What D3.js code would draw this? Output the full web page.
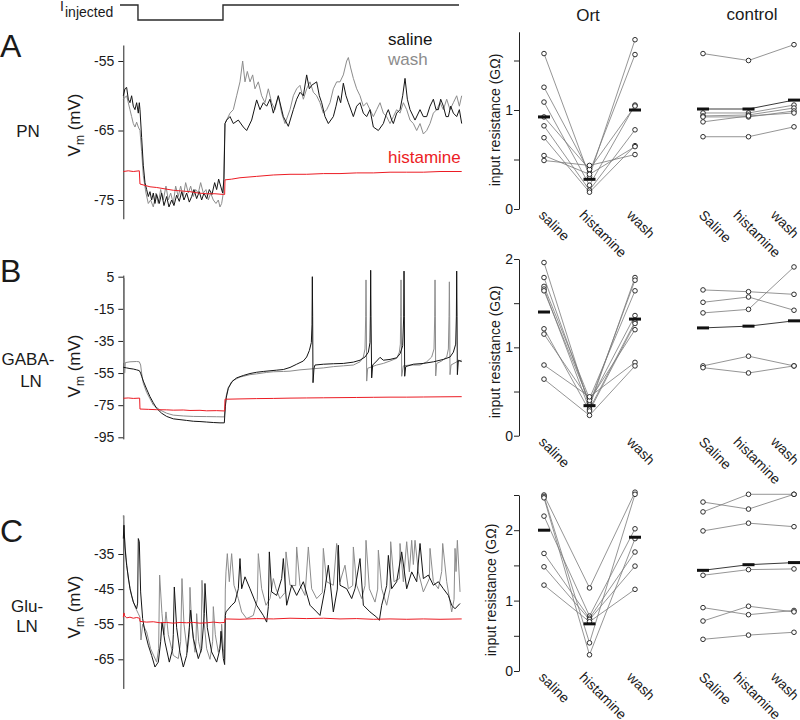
<!DOCTYPE html>
<html><head><meta charset="utf-8">
<script src="https://cdn.jsdelivr.net/npm/d3@7"></script>
<style>
body{margin:0;background:#fff}
svg{display:block}
text{font-family:"Liberation Sans",Arial,Helvetica,sans-serif;fill:#1a1a1a}
</style>
</head><body>
<svg id="fig" width="800" height="720"></svg>
<script>
// ---------------- DATA ----------------
// time in ms, membrane potential in mV
const iInjected = [[-20,0],[88,0],[88,-1],[598,-1],[598,0],[2014,0]];

const aSaline = [[0,-60],[10,-59],[20,-58.8],[30,-60.5],[40,-61],[50,-60],[60,-61.5],[70,-62],[80,-61],[90,-62.5],[96,-61],[100,-62],[110,-66],[120,-70],[130,-72.5],[140,-73.5],[150,-74.5],[160,-73.8],[170,-75],[180,-74],[190,-75.5],[200,-74.2],[216,-75.5],[230,-74],[244,-75.8],[260,-74.5],[274,-76],[290,-75],[304,-75.8],[320,-74.3],[336,-75.2],[350,-73.8],[364,-75],[380,-74],[396,-75.3],[410,-74.5],[424,-73.5],[440,-74.8],[456,-73.8],[470,-75],[484,-74],[500,-74.8],[516,-73.5],[532,-74.2],[548,-72.5],[560,-73.5],[572,-72],[584,-73],[596,-74],[604,-72],[610,-64],[620,-63.5],[640,-63],[660,-64],[690,-63.5],[720,-64.5],[740,-65],[770,-63.5],[800,-60.6],[820,-62],[840,-61],[860,-61.5],[880,-60.5],[900,-62.5],[930,-60],[960,-63],[990,-64.4],[1020,-62],[1040,-60.5],[1060,-59.5],[1080,-60],[1100,-57],[1116,-59],[1130,-58.5],[1160,-58],[1176,-60],[1190,-61],[1210,-63],[1230,-64],[1260,-63],[1276,-61.5],[1290,-60],[1304,-61],[1320,-58.2],[1336,-60],[1350,-61],[1380,-63],[1400,-61.5],[1420,-61],[1440,-62.5],[1460,-63],[1480,-62],[1500,-64.5],[1530,-65],[1560,-64],[1580,-62.5],[1590,-62],[1610,-63.5],[1620,-64],[1640,-62.5],[1660,-62],[1676,-60],[1690,-57.5],[1704,-60.5],[1720,-62],[1750,-63.5],[1780,-62],[1800,-63],[1820,-63],[1840,-61.5],[1860,-60.5],[1876,-62],[1890,-62],[1904,-60.5],[1920,-61.5],[1936,-63],[1950,-63],[1964,-61.5],[1980,-62.5],[2000,-63],[2016,-62],[2030,-64]];
const aWash = [[0,-60.5],[20,-60],[40,-62],[50,-63],[60,-64],[70,-64.5],[80,-63.8],[90,-64.5],[100,-65],[110,-68],[120,-71.5],[136,-74],[150,-75.5],[164,-75],[180,-76],[196,-74],[210,-75.5],[224,-73.5],[240,-75],[256,-73],[270,-75],[284,-74],[300,-75.5],[314,-73],[330,-74.5],[344,-73],[360,-74.5],[374,-72.5],[390,-74],[404,-73],[420,-74.5],[434,-73.5],[450,-74],[464,-72.5],[480,-74],[496,-73.5],[510,-75],[524,-74],[540,-75],[556,-75.5],[570,-75],[580,-76],[590,-75.5],[600,-74],[610,-64],[620,-63.5],[640,-62.5],[660,-62],[680,-60],[700,-58],[716,-55],[730,-58],[744,-56.5],[760,-58],[776,-57],[790,-59],[810,-58],[830,-60],[850,-61],[870,-59],[890,-61],[910,-62],[930,-60],[950,-62.5],[970,-64],[1000,-62],[1020,-60],[1040,-59],[1060,-58.5],[1080,-60.5],[1100,-59],[1120,-58],[1140,-59.5],[1160,-60],[1180,-61],[1200,-62.5],[1220,-62],[1240,-61],[1260,-59],[1280,-58],[1300,-58],[1320,-57],[1340,-55],[1350,-54.5],[1364,-56],[1380,-57.5],[1400,-59],[1420,-60],[1440,-61.5],[1460,-61],[1480,-62],[1500,-63],[1520,-62],[1540,-61],[1560,-62.5],[1580,-63],[1600,-64],[1620,-63],[1640,-62],[1660,-62.5],[1680,-61],[1700,-62],[1720,-63.5],[1740,-64],[1760,-65],[1780,-64],[1800,-65.5],[1820,-65],[1840,-64],[1860,-62.5],[1880,-62],[1900,-61],[1920,-62],[1940,-60.5],[1960,-62],[1980,-61],[2000,-60],[2016,-61.5],[2030,-60]];
const aHist = [[0,-70.9],[30,-70.8],[60,-70.9],[96,-70.8],[100,-72.7],[130,-72.9],[160,-73.1],[200,-73.2],[250,-73.4],[300,-73.6],[350,-73.7],[400,-73.8],[450,-74],[500,-74.1],[550,-74.1],[600,-74.2],[608,-74.2],[610,-72.1],[650,-72],[700,-71.8],[800,-71.6],[900,-71.4],[1000,-71.3],[1100,-71.3],[1200,-71.2],[1300,-71.2],[1400,-71.1],[1500,-71.1],[1600,-71],[1700,-71],[1800,-71],[1900,-70.9],[2030,-70.9]];

const bSaline = [[0,-51.4],[20,-51.8],[40,-52.2],[60,-52.5],[80,-53],[96,-53.5],[104,-55],[110,-57],[120,-60],[140,-65],[160,-69.7],[180,-73.5],[200,-77],[230,-80],[260,-82],[300,-83.5],[340,-84],[380,-84.5],[420,-85],[460,-85.2],[500,-85.5],[540,-85.8],[580,-86],[606,-86],[612,-76],[618,-70],[630,-64.5],[650,-60.5],[680,-58],[720,-56.5],[760,-55.3],[800,-54.5],[840,-54],[880,-53.6],[920,-53.2],[960,-52.8],[1000,-51.5],[1040,-49.5],[1080,-47.5],[1100,-45],[1116,-41],[1128,-36],[1132,-25],[1134,5],[1136,-20],[1138,-61],[1144,-52],[1150,-50],[1200,-49.5],[1260,-49.2],[1320,-49],[1380,-48.2],[1420,-47],[1450,-45],[1470,-42],[1480,-36],[1482,-20],[1484,9],[1486,-20],[1490,-58],[1496,-50],[1520,-47.5],[1540,-45.2],[1560,-47],[1600,-46.5],[1640,-45.5],[1660,-43],[1676,-38],[1682,-20],[1684,8.5],[1686,-20],[1688,-57],[1694,-51],[1740,-49.5],[1800,-49],[1860,-48],[1920,-46.5],[1960,-45],[1980,-42],[1994,-37],[1998,-20],[2000,8.5],[2002,-20],[2004,-56],[2010,-47],[2030,-47.9]];
const bWash = [[0,-48.3],[3,-48.5],[6,4],[8,-55],[12,-48.5],[40,-48],[80,-47.8],[96,-48],[104,-50],[110,-55],[120,-61.4],[140,-67],[160,-71],[180,-74.9],[220,-78],[260,-80],[300,-81.2],[360,-81.7],[420,-82],[500,-82.1],[560,-82.2],[606,-82.3],[612,-75],[618,-69],[630,-64],[660,-59.5],[700,-57.5],[760,-56],[800,-55.5],[860,-54.6],[900,-54.2],[960,-54],[1000,-53.8],[1060,-53],[1140,-52.3],[1200,-51.8],[1260,-51],[1320,-50.5],[1380,-50],[1420,-48],[1440,-45],[1450,-40],[1454,-20],[1456,3],[1458,-20],[1460,-60],[1466,-52],[1480,-51.5],[1520,-50],[1560,-49],[1600,-47.5],[1640,-45.8],[1656,-42],[1662,-37],[1664,-20],[1666,3],[1668,-20],[1670,-57],[1680,-50.5],[1720,-50],[1780,-50],[1820,-48],[1850,-45],[1864,-40],[1868,-20],[1870,3],[1872,-20],[1874,-56.8],[1880,-49],[1910,-47.5],[1940,-45],[1950,-40],[1954,-20],[1956,1.8],[1958,-20],[1960,-56],[1966,-50],[2000,-48],[2030,-47]];
const bHist = [[0,-70.7],[30,-70.5],[60,-70.8],[98,-70.6],[100,-77.4],[150,-77.6],[200,-77.8],[260,-77.9],[300,-78.1],[360,-78],[400,-78.3],[460,-78.2],[500,-78.5],[560,-78.4],[608,-78.6],[610,-71.3],[700,-71.1],[800,-70.9],[900,-70.8],[1000,-70.6],[1100,-70.5],[1200,-70.4],[1300,-70.3],[1400,-70.2],[1500,-70.1],[1600,-70],[1700,-70],[1800,-69.9],[1900,-69.8],[2030,-69.7]];

const cSaline = [[0,-30.6],[4,-26.8],[10,-33],[20,-38.2],[40,-44.9],[60,-48.7],[80,-50.6],[86,-49],[90,-30.6],[96,-31.5],[104,-45.8],[116,-53.4],[130,-57.2],[150,-61],[170,-63.9],[190,-67.2],[210,-65.8],[224,-60],[232,-54.4],[250,-60.1],[276,-65.8],[296,-62],[300,-58],[306,-44.4],[320,-56],[340,-63],[360,-67.2],[380,-63.9],[396,-56],[404,-51],[420,-59],[450,-64.8],[470,-62],[486,-52],[490,-43.4],[504,-56],[530,-62.9],[560,-65.8],[580,-62],[586,-57],[600,-64.8],[608,-66.5],[612,-52.5],[616,-51.5],[650,-49.6],[670,-48.7],[690,-44.9],[700,-36.3],[710,-44.9],[730,-41.5],[760,-44.9],[800,-49.6],[840,-52.5],[860,-54.4],[870,-50],[876,-34.4],[890,-45.8],[920,-46.8],[950,-42],[960,-36.3],[980,-49.6],[1010,-43.9],[1040,-46.8],[1080,-42.9],[1120,-49.6],[1160,-51.5],[1180,-52.5],[1210,-44.9],[1230,-38.2],[1260,-51.5],[1284,-45],[1290,-32.5],[1300,-43.9],[1340,-44.9],[1370,-47.7],[1390,-44.9],[1420,-36.3],[1440,-49.6],[1480,-51.5],[1520,-53],[1536,-53.9],[1550,-49.6],[1580,-44],[1590,-35.4],[1610,-44.9],[1640,-42.9],[1670,-34.4],[1700,-44.9],[1730,-40.1],[1760,-42.9],[1780,-32],[1800,-42],[1830,-41],[1860,-43.9],[1890,-42.9],[1920,-44.9],[1950,-46.8],[1970,-49.6],[1990,-50.6],[2020,-49.1]];
const cWash = [[0,-24],[4,-28],[16,-36],[30,-42],[50,-47],[70,-50],[90,-52],[100,-53],[106,-59.5],[116,-55],[140,-57.2],[164,-62],[200,-65.8],[212,-62],[218,-41],[232,-52],[244,-58],[256,-51.5],[270,-58],[300,-63.9],[330,-64.8],[344,-60],[352,-42],[364,-55],[384,-63],[396,-58],[400,-44.5],[410,-55],[430,-63],[436,-60],[440,-52],[452,-60],[466,-63],[472,-42.5],[484,-54],[500,-62],[520,-65],[536,-60],[540,-50],[552,-58],[570,-63],[586,-60],[590,-55],[600,-62],[608,-65],[612,-45],[616,-40.1],[624,-34.9],[636,-42.9],[650,-34.9],[664,-43.9],[690,-47.7],[710,-51.5],[740,-53.4],[780,-52.5],[804,-48],[810,-34.9],[830,-44.9],[856,-49.6],[880,-47.7],[900,-42],[916,-44.9],[940,-47.7],[970,-46],[976,-34.4],[1000,-43.9],[1034,-44],[1040,-33],[1060,-43.9],[1090,-46.8],[1110,-33],[1130,-44.9],[1160,-47.7],[1194,-46],[1200,-33.4],[1220,-42.9],[1260,-43.9],[1280,-32],[1300,-42.9],[1330,-38.2],[1350,-44.9],[1376,-44],[1380,-33],[1400,-43.9],[1430,-47.7],[1450,-44],[1456,-31.1],[1476,-44.9],[1510,-48.7],[1526,-45],[1530,-33.9],[1550,-44.9],[1580,-49.6],[1600,-45],[1604,-31.5],[1624,-42.9],[1656,-42],[1660,-32],[1680,-42.9],[1700,-31.5],[1716,-40.1],[1730,-31.1],[1740,-38],[1750,-31.1],[1770,-40.1],[1800,-45.8],[1836,-42],[1840,-33.4],[1860,-42.9],[1890,-44.9],[1910,-40],[1916,-32],[1940,-42.9],[1970,-51.5],[1984,-48],[1990,-33.4],[1996,-40],[2004,-31.1],[2020,-45.8]];
const cHist = [[0,-53],[4,-51.8],[8,-52.6],[20,-53.2],[40,-53],[60,-53.3],[80,-53.1],[98,-53.3],[100,-54.2],[140,-54.4],[180,-54.3],[220,-54.6],[260,-54.5],[300,-54.7],[340,-54.5],[380,-54.6],[420,-54.5],[460,-54.7],[500,-54.6],[540,-54.4],[580,-54.6],[608,-54.5],[610,-53.5],[700,-53.6],[800,-53.4],[900,-53.5],[1000,-53.3],[1100,-53.4],[1200,-53.3],[1300,-53.5],[1400,-53.4],[1500,-53.6],[1600,-53.5],[1700,-53.6],[1800,-53.5],[1900,-53.6],[2030,-53.5]];

const ticksA = [-55,-65,-75];
const ticksB = [5,-15,-35,-55,-75,-95];
const ticksC = [-35,-45,-55,-65];

// input resistance (GOhm): each row = one cell [saline, histamine, wash]
const conditions = ["saline","histamine","wash"];
const ctrlConditions = ["Saline","histamine","wash"];
const ortA = [[1.57,0.33,1.71],[1.23,0.37,1.56],[1.08,0.24,1.05],[0.93,0.40,1.04],[0.84,0.19,0.80],[0.72,0.17,0.64],[0.54,0.35,0.63],[0.49,0.44,0.55]];
const ortAMean = [0.93,0.30,1.00];
const ctrlA = [[1.57,1.50,1.66],[0.97,0.97,1.05],[0.94,0.95,1.02],[0.93,0.93,0.99],[0.88,0.94,0.97],[0.73,0.73,0.83]];
const ctrlAMean = [1.01,1.01,1.10];
const ortB = [[1.96,0.33,1.79],[1.79,0.36,1.76],[1.69,0.42,1.64],[1.66,0.30,1.29],[1.64,0.38,1.36],[1.21,0.28,1.27],[1.15,0.40,1.20],[0.80,0.44,0.83],[0.64,0.23,0.79]];
const ortBMean = [1.40,0.34,1.32];
const ctrlB = [[1.65,1.63,1.60],[1.51,1.57,1.42],[1.39,1.43,1.91],[0.79,0.90,0.79],[0.77,0.71,0.79]];
const ctrlBMean = [1.22,1.24,1.30];
const ortC = [[2.50,1.18,2.54],[2.48,0.40,2.51],[2.46,0.23,1.88],[2.20,0.78,2.02],[1.67,0.75,1.69],[1.48,0.73,1.49],[1.22,0.70,1.16]];
const ortCMean = [2.00,0.67,1.90];
const ctrlC = [[2.40,2.30,2.51],[2.26,2.51,2.51],[1.99,2.10,2.05],[1.36,1.44,1.45],[0.90,0.80,0.86],[0.71,0.92,0.84],[0.45,0.51,0.55]];
const ctrlCMean = [1.43,1.51,1.54];

const resTicksA = [0,0.5,1,1.5];
const resTicksB = [0,0.5,1,1.5,2];
const resTicksC = [0,0.5,1,1.5,2,2.5];

// ---------------- DRAWING ----------------
const svg = d3.select("#fig");
const BLACK = "#141414", GRAY = "#8c8c8c", RED = "#ec1c24";
const x = d3.scaleLinear().domain([0, 2030]).range([123.3, 461.7]);
const line = (ys) => d3.line().x(d => x(d[0])).y(d => ys(d[1]));

// stimulus
const yI = d3.scaleLinear().domain([-1, 0]).range([20, 5]);
svg.append("path").datum(iInjected)
  .attr("d", d3.line().x(d => x(d[0])).y(d => yI(d[1])))
  .attr("fill","none").attr("stroke","#2a2a2a").attr("stroke-width",1.4);
svg.append("text").attr("x",60).attr("y",11).attr("font-size",14).text("I");
svg.append("text").attr("x",65).attr("y",17).attr("font-size",14).text("injected");

function tracePanel(cfg) {
  const y0 = d3.scaleLinear().domain(cfg.refV).range(cfg.refY);
  const ys = d3.scaleLinear().domain(cfg.axisV).range(cfg.axisV.map(y0));
  const g = svg.append("g");
  const ax = d3.axisLeft(ys).tickValues(cfg.ticks).tickSize(5).tickSizeOuter(0).tickFormat(d => String(d));
  const axg = g.append("g").attr("transform", `translate(${x(0)},0)`).call(ax);
  axg.select(".domain").attr("stroke","#222").attr("stroke-width",1);
  axg.selectAll(".tick line").attr("stroke","#222");
  axg.selectAll(".tick text").attr("font-size",14).attr("fill","#1a1a1a")
     .attr("font-family","Liberation Sans, Arial, sans-serif").attr("x",-9);
  [[cfg.wash, GRAY],[cfg.saline, BLACK],[cfg.hist, RED]].forEach(([dat,col]) => {
    g.append("path").datum(dat).attr("d", line(ys)).attr("fill","none")
      .attr("stroke", col).attr("stroke-width", 1).attr("stroke-linejoin","round");
  });
  const t = g.append("text").attr("transform", `translate(${cfg.vmX},${cfg.vmY}) rotate(-90)`)
    .attr("text-anchor","middle").attr("font-size",17);
  t.append("tspan").text("V");
  t.append("tspan").attr("font-size",12).attr("dy",4).text("m");
  t.append("tspan").attr("dy",-4).text(" (mV)");
}

tracePanel({refV:[-75,-55], refY:[200,61], axisV:[-77.7,-52.7], ticks:ticksA,
  saline:aSaline, wash:aWash, hist:aHist, vmX:80, vmY:125});
tracePanel({refV:[-95,5], refY:[437.3,276.7], axisV:[-96,6], ticks:ticksB,
  saline:bSaline, wash:bWash, hist:bHist, vmX:80, vmY:366});
tracePanel({refV:[-65,-35], refY:[659.3,554], axisV:[-73.3,-23.9], ticks:ticksC,
  saline:cSaline, wash:cWash, hist:cHist, vmX:80, vmY:607});

// legend
svg.append("text").attr("x",388).attr("y",45).attr("font-size",17).style("fill",BLACK).text("saline");
svg.append("text").attr("x",388).attr("y",64.5).attr("font-size",17).style("fill",GRAY).text("wash");
svg.append("text").attr("x",388).attr("y",163).attr("font-size",17).style("fill",RED).text("histamine");

// panel letters and cell names
[["A",57],["B",282],["C",542]].forEach(([l,yy]) =>
  svg.append("text").attr("x",0).attr("y",yy).attr("font-size",32).text(l));
svg.append("text").attr("x",28).attr("y",137).attr("font-size",17).attr("text-anchor","middle").text("PN");
svg.append("text").attr("x",28).attr("y",365).attr("font-size",17).attr("text-anchor","middle").text("GABA-");
svg.append("text").attr("x",31).attr("y",387).attr("font-size",17).attr("text-anchor","middle").text("LN");
svg.append("text").attr("x",27).attr("y",612).attr("font-size",17).attr("text-anchor","middle").text("Glu-");
svg.append("text").attr("x",27).attr("y",632).attr("font-size",17).attr("text-anchor","middle").text("LN");

// titles
svg.append("text").attr("x",588).attr("y",21).attr("font-size",17).attr("text-anchor","middle").text("Ort");
svg.append("text").attr("x",752).attr("y",20).attr("font-size",17).attr("text-anchor","middle").text("control");

const xOrt = d3.scalePoint().domain(conditions).range([544, 635]);
const xCtrl = d3.scalePoint().domain(conditions).range([703, 794]);
const ortLabelDx = [-6,-11,-9];
const ctrlLabelDx = [-5,-16,-24];

function resPanel(rows, means, xs, ys, opts) {
  const g = svg.append("g");
  const px = (i) => xs(conditions[i]);
  rows.forEach(r => {
    g.append("path").datum(r)
      .attr("d", d3.line().x((d,i) => px(i)).y(d => ys(d)))
      .attr("fill","none").attr("stroke","#7a7a7a").attr("stroke-width",0.8);
  });
  if (opts.meanLine) {
    g.append("path").datum(means)
      .attr("d", d3.line().x((d,i) => px(i)).y(d => ys(d)))
      .attr("fill","none").attr("stroke","#3a3a3a").attr("stroke-width",1);
  }
  rows.forEach(r => r.forEach((v,i) => {
    g.append("circle").attr("cx", px(i)).attr("cy", ys(v)).attr("r",2.3)
      .attr("fill","#fff").attr("stroke","#1a1a1a").attr("stroke-width",0.9);
  }));
  means.forEach((m,i) => {
    g.append("rect").attr("x", px(i)-6).attr("y", ys(m)-1.5).attr("width",12).attr("height",3)
      .attr("fill","#111");
  });
  opts.labels.forEach((lab,i) => {
    if (!lab) return;
    const lx = px(i) + opts.labelDx[i], ly = ys(0) + 7;
    g.append("text").attr("transform",`translate(${lx},${ly}) rotate(45)`)
      .attr("font-size",14).text(lab);
  });
}

function resAxis(ys, ticks, labelY, labelX) {
  const g = svg.append("g").attr("transform","translate(519,0)");
  const ax = d3.axisLeft(ys).tickValues(ticks).tickSize(5).tickSizeOuter(0)
    .tickFormat(d => Number.isInteger(d) ? String(d) : "");
  g.call(ax);
  g.select(".domain").attr("stroke","#222");
  g.selectAll(".tick line").attr("stroke","#222");
  g.selectAll(".tick text").attr("font-size",14).attr("fill","#1a1a1a")
    .attr("font-family","Liberation Sans, Arial, sans-serif").attr("x",-6);
  svg.append("text").attr("transform",`translate(${labelX},${labelY}) rotate(-90)`)
    .attr("text-anchor","middle").attr("font-size",14).text("input resistance (GΩ)");
}

// A
const yRA = d3.scaleLinear().domain([0,1.79]).range([209, 209-1.79*99]);
resAxis(yRA, resTicksA, 120, 500);
resPanel(ortA, ortAMean, xOrt, yRA, {labels:conditions, labelDx:ortLabelDx});
resPanel(ctrlA, ctrlAMean, xCtrl, yRA, {labels:ctrlConditions, labelDx:ctrlLabelDx, meanLine:true});
// B
const yRB = d3.scaleLinear().domain([0,2]).range([435.7, 259]);
resAxis(yRB, resTicksB, 352, 500);
resPanel(ortB, ortBMean, xOrt, yRB, {labels:["saline","","wash"], labelDx:ortLabelDx});
resPanel(ctrlB, ctrlBMean, xCtrl, yRB, {labels:ctrlConditions, labelDx:ctrlLabelDx, meanLine:true});
// C
const yRC = d3.scaleLinear().domain([0,2.5]).range([671, 495]);
resAxis(yRC, resTicksC, 590, 496);
resPanel(ortC, ortCMean, xOrt, yRC, {labels:conditions, labelDx:ortLabelDx});
resPanel(ctrlC, ctrlCMean, xCtrl, yRC, {labels:ctrlConditions, labelDx:ctrlLabelDx, meanLine:true});
</script>
</body></html>
